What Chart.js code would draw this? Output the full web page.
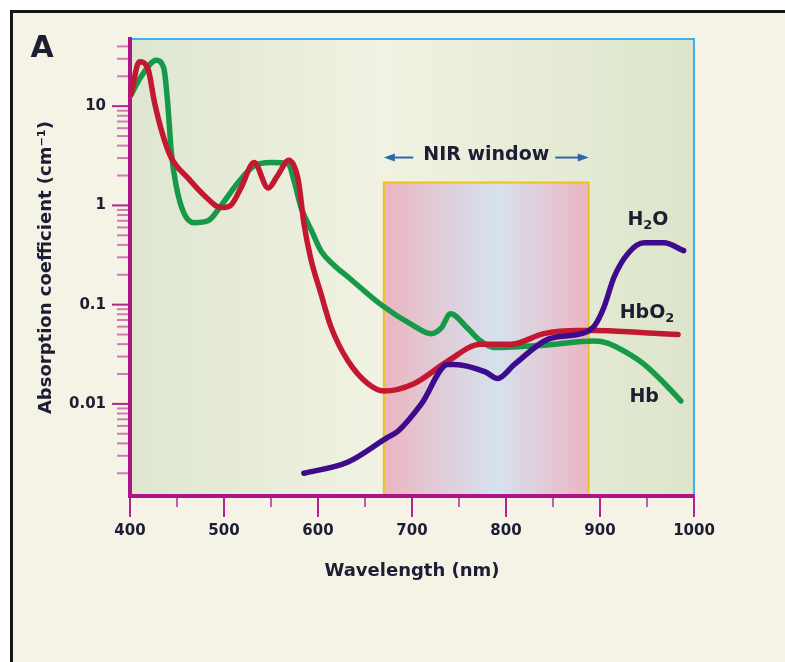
<!DOCTYPE html>
<html>
<head>
<meta charset="utf-8">
<script src="https://cdn.jsdelivr.net/npm/chart.js@4.4.1/dist/chart.umd.min.js"></script>
<style>
  body { margin: 0; background: #ffffff; }
  canvas { display: block; }
</style>
</head>
<body>
<canvas id="chart" width="785" height="662"></canvas>
<script>
// Hb (deoxyhaemoglobin), green
const hbNm  = [401, 412, 428, 436, 440, 444, 449, 457, 468, 483, 497, 515, 532, 550, 568, 575, 582, 593, 603, 617, 632, 667, 702, 720, 731, 741, 759, 773, 787, 840, 894, 908, 928, 947, 966, 986];
const hbVal = [13, 20, 29, 24, 11, 3.4, 1.6, 0.85, 0.67, 0.7, 1.0, 1.7, 2.5, 2.7, 2.65, 1.7, 0.95, 0.56, 0.35, 0.25, 0.19, 0.10, 0.061, 0.051, 0.058, 0.081, 0.058, 0.043, 0.037, 0.039, 0.043, 0.041, 0.033, 0.025, 0.017, 0.0107];

// HbO2 (oxyhaemoglobin), red
const hbo2Nm  = [401, 410, 419, 426, 435, 444, 462, 479, 497, 507, 518, 532, 547, 557, 569, 579, 585, 592, 603, 614, 632, 653, 670, 702, 738, 773, 806, 840, 876, 894, 947, 983];
const hbo2Val = [13, 28, 24, 11, 5.1, 3.0, 1.87, 1.26, 0.95, 1.0, 1.5, 2.7, 1.5, 2.0, 2.85, 1.8, 0.66, 0.3, 0.13, 0.059, 0.027, 0.016, 0.0135, 0.016, 0.027, 0.040, 0.040, 0.051, 0.055, 0.055, 0.052, 0.050];

// H2O, purple
const h2oNm  = [585, 632, 674, 685, 710, 738, 745, 778, 791, 809, 845, 880, 894, 904, 915, 930, 947, 968, 989];
const h2oVal = [0.0020, 0.0026, 0.0046, 0.0053, 0.010, 0.025, 0.025, 0.021, 0.018, 0.025, 0.045, 0.051, 0.061, 0.093, 0.19, 0.33, 0.42, 0.42, 0.35];

const seriesNames  = ['H2O', 'HbO2', 'Hb'];
const seriesColors = ['#3d0b8c', '#c3182f', '#17994a'];
const labelNm  = [951, 950, 947];
const labelVal = [0.63, 0.073, 0.0105];

const xMin = 400, xMax = 1000, xStep = 50;
const yMin = 0.00118, yMax = 47.5;
const yLabelValues = [0.01, 0.1, 1, 10];
const yTickLabels  = ['0.01', '0.1', '1', '10'];

const nirWindow = [670, 888];
const nirTop = 1.7;

const yTickMarks = [];
for (let e = -3; e <= 1; e++) {
  for (let m = 1; m <= 9; m++) {
    const v = +(m * Math.pow(10, e)).toPrecision(6);
    if (v >= yMin && v <= yMax) yTickMarks.push(v);
  }
}

const FONT = '"DejaVu Sans", "Liberation Sans", sans-serif';
const INK = '#1d1d33';
const AXIS = '#ae1484';

function toPoints(xs, ys) {
  return xs.map((x, i) => ({ x: x, y: ys[i] }));
}

// label text with digits drawn as subscripts
function drawChem(ctx, text, cx, baseline, size) {
  const parts = text.split(/(\d)/).filter(s => s.length);
  const big = 'bold ' + size + 'px ' + FONT;
  const small = 'bold ' + Math.round(size * 0.68) + 'px ' + FONT;
  let w = 0;
  parts.forEach(p => { ctx.font = /\d/.test(p) ? small : big; w += ctx.measureText(p).width; });
  let x = cx - w / 2;
  ctx.textAlign = 'left';
  ctx.textBaseline = 'alphabetic';
  parts.forEach(p => {
    const sub = /\d/.test(p);
    ctx.font = sub ? small : big;
    ctx.fillText(p, x, baseline + (sub ? size * 0.22 : 0));
    x += ctx.measureText(p).width;
  });
}

function arrow(ctx, from, to, y) {
  const d = Math.sign(to - from);
  ctx.beginPath();
  ctx.moveTo(from, y);
  ctx.lineTo(to - d * 8, y);
  ctx.stroke();
  ctx.beginPath();
  ctx.moveTo(to, y);
  ctx.lineTo(to - d * 11, y - 4);
  ctx.lineTo(to - d * 11, y + 4);
  ctx.closePath();
  ctx.fill();
}

const decor = {
  id: 'decor',
  beforeDraw(chart) {
    const { ctx, chartArea: a, scales: { x, y } } = chart;
    ctx.save();
    ctx.fillStyle = '#f5f2e6';
    ctx.fillRect(10, 10, chart.width - 10, chart.height - 10);
    ctx.fillStyle = '#161616';
    ctx.fillRect(10, 10, chart.width - 10, 3);
    ctx.fillRect(10, 10, 3, chart.height - 10);

    // plot background
    const g = ctx.createLinearGradient(a.left, 0, a.right, 0);
    g.addColorStop(0, '#dee6d0');
    g.addColorStop(0.45, '#f1f2e3');
    g.addColorStop(1, '#dce5cb');
    ctx.fillStyle = g;
    ctx.fillRect(a.left, a.top, a.right - a.left, a.bottom - a.top);

    // NIR window
    const nx0 = x.getPixelForValue(nirWindow[0]);
    const nx1 = x.getPixelForValue(nirWindow[1]);
    const ny = y.getPixelForValue(nirTop);
    const ng = ctx.createLinearGradient(nx0, 0, nx1, 0);
    ng.addColorStop(0, '#ecb5c2');
    ng.addColorStop(0.55, '#d5e2ee');
    ng.addColorStop(1, '#ecb5c2');
    ctx.fillStyle = ng;
    ctx.fillRect(nx0, ny, nx1 - nx0, a.bottom - ny);
    ctx.strokeStyle = '#f0c31a';
    ctx.lineWidth = 2;
    ctx.strokeRect(nx0, ny, nx1 - nx0, a.bottom - ny);

    // top / right frame
    ctx.strokeStyle = '#3eb0ec';
    ctx.lineWidth = 2;
    ctx.beginPath();
    ctx.moveTo(a.left, a.top);
    ctx.lineTo(a.right, a.top);
    ctx.lineTo(a.right, a.bottom);
    ctx.stroke();
    ctx.restore();
  },
  afterDraw(chart) {
    const { ctx, chartArea: a, scales: { x, y } } = chart;
    ctx.save();

    // tick marks
    ctx.lineWidth = 2;
    x.ticks.forEach(t => {
      const px = x.getPixelForValue(t.value);
      const major = t.value % 100 === 0;
      ctx.strokeStyle = major ? '#b3248d' : '#c65aa5';
      ctx.beginPath();
      ctx.moveTo(px, a.bottom + 2);
      ctx.lineTo(px, a.bottom + (major ? 21 : 11));
      ctx.stroke();
    });
    y.ticks.forEach(t => {
      const py = y.getPixelForValue(t.value);
      const major = yLabelValues.some(v => Math.abs(Math.log10(v) - Math.log10(t.value)) < 1e-9);
      ctx.strokeStyle = major ? '#b3248d' : '#cf7ab5';
      ctx.beginPath();
      ctx.moveTo(a.left - 2, py);
      ctx.lineTo(a.left - (major ? 18 : 13), py);
      ctx.stroke();
    });

    ctx.fillStyle = INK;
    // panel letter
    ctx.font = 'bold 30px ' + FONT;
    ctx.textAlign = 'center';
    ctx.textBaseline = 'middle';
    ctx.fillText('A', 42, 49);

    // NIR window caption and arrows
    const nx0 = x.getPixelForValue(nirWindow[0]);
    const nx1 = x.getPixelForValue(nirWindow[1]);
    const ny = y.getPixelForValue(nirTop);
    const cx = (nx0 + nx1) / 2;
    ctx.font = 'bold 19px ' + FONT;
    const tw = ctx.measureText('NIR window').width;
    ctx.fillText('NIR window', cx, ny - 27);
    ctx.strokeStyle = '#2b69a6';
    ctx.fillStyle = '#2b69a6';
    ctx.lineWidth = 2;
    arrow(ctx, cx - tw / 2 - 10, nx0, ny - 25);
    arrow(ctx, cx + tw / 2 + 6, nx1, ny - 25);

    // series labels
    ctx.fillStyle = INK;
    seriesNames.forEach((name, i) => {
      drawChem(ctx, name, x.getPixelForValue(labelNm[i]), y.getPixelForValue(labelVal[i]), 19);
    });
    ctx.restore();
  }
};

const series = [toPoints(h2oNm, h2oVal), toPoints(hbo2Nm, hbo2Val), toPoints(hbNm, hbVal)];

new Chart(document.getElementById('chart'), {
  type: 'line',
  data: {
    datasets: series.map((pts, i) => ({
      label: seriesNames[i],
      data: pts,
      borderColor: seriesColors[i],
      borderWidth: 5.5,
      borderCapStyle: 'round',
      borderJoinStyle: 'round',
      pointRadius: 0,
      fill: false,
      cubicInterpolationMode: 'monotone'
    }))
  },
  options: {
    responsive: false,
    animation: false,
    events: [],
    layout: { padding: { left: 36, top: 39, right: 91, bottom: 80 } },
    plugins: { legend: { display: false }, tooltip: { enabled: false } },
    scales: {
      x: {
        type: 'linear',
        min: xMin,
        max: xMax,
        afterFit: s => { s.height = 86; },
        border: { color: AXIS, width: 4 },
        grid: { drawOnChartArea: false, tickColor: 'transparent', tickLength: 20 },
        ticks: {
          stepSize: xStep,
          autoSkip: false,
          maxRotation: 0,
          padding: 6,
          color: INK,
          font: { family: FONT, size: 15, weight: 'bold' },
          callback: v => (v % 100 === 0 ? String(v) : '')
        },
        title: {
          display: true,
          text: 'Wavelength (nm)',
          color: INK,
          padding: 0,
          font: { family: FONT, size: 18, weight: 'bold' }
        }
      },
      y: {
        type: 'logarithmic',
        min: yMin,
        max: yMax,
        afterFit: s => { s.width = 94; },
        afterBuildTicks: s => { s.ticks = yTickMarks.map(v => ({ value: v })); },
        border: { color: AXIS, width: 4 },
        grid: { drawOnChartArea: false, tickColor: 'transparent', tickLength: 18 },
        ticks: {
          autoSkip: false,
          padding: 6,
          color: INK,
          font: { family: FONT, size: 15, weight: 'bold' },
          callback: v => {
            const i = yLabelValues.findIndex(l => Math.abs(Math.log10(l) - Math.log10(v)) < 1e-9);
            return i >= 0 ? yTickLabels[i] : '';
          }
        },
        title: {
          display: true,
          text: 'Absorption coefficient (cm\u207B\u00B9)',
          color: INK,
          padding: 0,
          font: { family: FONT, size: 18, weight: 'bold' }
        }
      }
    }
  },
  plugins: [decor]
});
</script>
</body>
</html>
